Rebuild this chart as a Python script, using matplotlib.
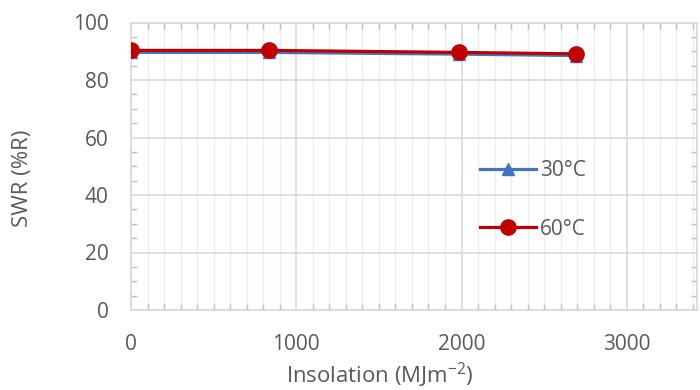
import matplotlib
matplotlib.use("Agg")
import matplotlib.pyplot as plt
from matplotlib.ticker import MultipleLocator

insolation = [0, 835, 1985, 2695]
swr_30 = [89.6, 89.6, 89.0, 88.5]
swr_60 = [90.3, 90.3, 89.6, 89.1]
series_labels = ["30°C", "60°C"]

plt.rcParams['font.family'] = ['Open Sans', 'DejaVu Sans']
fig = plt.figure(figsize=(7, 3.9), dpi=100)
W, H = 700, 390
L, R, T, B = 131, 697, 22.5, 310
ax = fig.add_axes([L / W, (H - B) / H, (R - L) / W, (B - T) / H])

grey = "#595959"
ax.plot(insolation, swr_30, color="#4472C4", lw=2.3, marker="^", ms=9, label=series_labels[0], zorder=3)
ax.plot(insolation, swr_60, color="#C00000", lw=2.3, marker="o", ms=11, label=series_labels[1], zorder=4)

ax.set_xlim(0, 3425)
ax.set_ylim(0, 100)
ax.xaxis.set_major_locator(MultipleLocator(1000))
ax.xaxis.set_minor_locator(MultipleLocator(100))
ax.yaxis.set_major_locator(MultipleLocator(20))
ax.yaxis.set_minor_locator(MultipleLocator(5))

ax.grid(which="major", axis="both", color="#D9D9D9", lw=1.2)
ax.grid(which="minor", axis="x", color="#ECECEC", lw=1)
ax.set_axisbelow(True)

for s in ["left", "bottom", "top", "right"]:
    ax.spines[s].set_color("#D9D9D9")
    ax.spines[s].set_linewidth(1.2)

ax.tick_params(which="major", length=0, labelsize=15, labelcolor=grey)
ax.tick_params(axis="y", which="major", pad=16)
ax.tick_params(axis="x", which="major", pad=17)
ax.tick_params(which="minor", direction="in", length=4.3, width=1, color="#BFBFBF",
               top=True, right=True, bottom=True, left=True)

ax.set_xlabel("Insolation (MJm$^{\\mathregular{-2}}$)", fontsize=16, color=grey)
ax.set_ylabel("SWR (%R)", fontsize=16, color=grey)
ax.xaxis.label.set_va("center")
ax.yaxis.label.set_va("center")
ax.yaxis.set_label_coords(22.5 / W, (H - 178) / H, transform=fig.transFigure)
ax.xaxis.set_label_coords(((L + R) / 2 - 34) / W, (H - 375.5) / H, transform=fig.transFigure)

leg = ax.legend(loc="center left", bbox_to_anchor=(472 / W, (H - 200) / H),
                bbox_transform=fig.transFigure, borderaxespad=0, frameon=False,
                fontsize=15, labelspacing=1.78, handlelength=2.65, handletextpad=0.2)
for t in leg.get_texts():
    t.set_color(grey)
leg.legend_handles[0].set_markersize(8)

fig.savefig("out.png", dpi=100)
